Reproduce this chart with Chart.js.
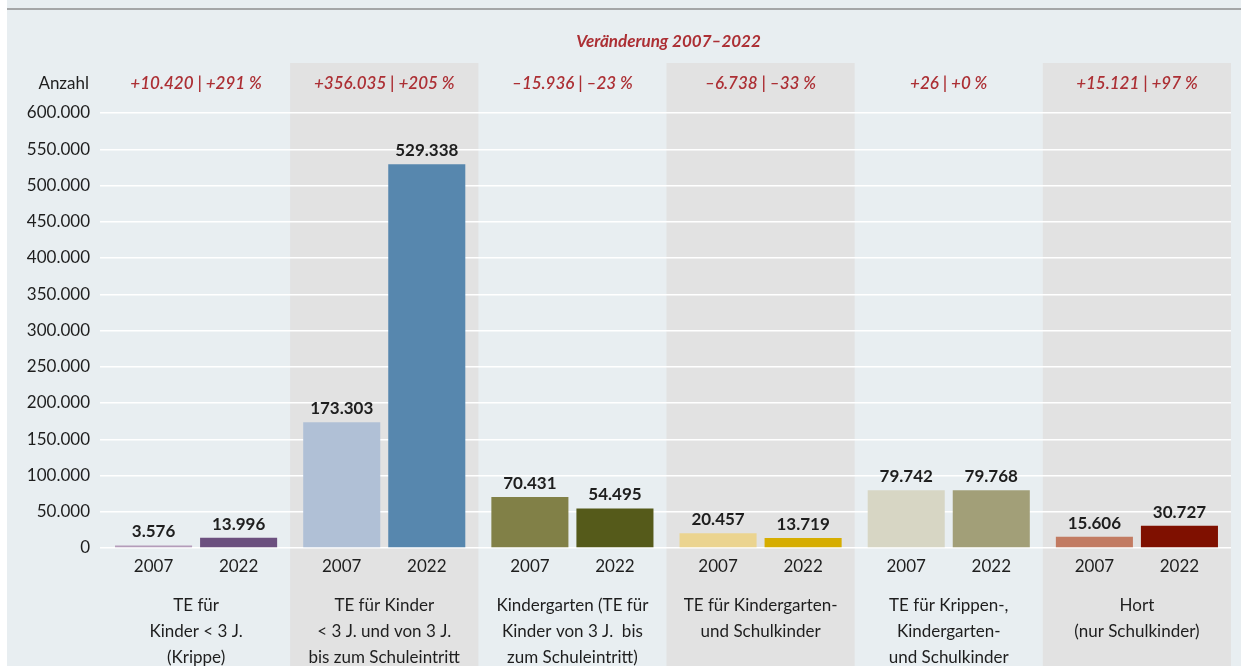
<!DOCTYPE html>
<html>
<head>
<meta charset="utf-8">
<script src="https://cdn.jsdelivr.net/npm/chart.js@4"></script>
<style>
body{margin:0;background:#fff;}
#wrap{position:absolute;left:7px;top:0;width:1234px;height:666px;background:#e8eef1;}
</style>
</head>
<body>
<div id="wrap"><canvas id="chart" width="1234" height="666"></canvas></div>
<script>
// data

const groups = [
  ["TE für", "Kinder < 3 J.", "(Krippe)"],
  ["TE für Kinder", "< 3 J. und von 3 J.", "bis zum Schuleintritt"],
  ["Kindergarten (TE für", "Kinder von 3 J.  bis", "zum Schuleintritt)"],
  ["TE für Kindergarten-", "und Schulkinder"],
  ["TE für Krippen-,", "Kindergarten-", "und Schulkinder"],
  ["Hort", "(nur Schulkinder)"]
];

const years = ["2007", "2022"];

const values2007 = [3576, 173303, 70431, 20457, 79742, 15606];
const values2022 = [13996, 529338, 54495, 13719, 79768, 30727];

const changes = [
  "+10.420 | +291 %",
  "+356.035 | +205 %",
  "\u201315.936 | \u201323 %",
  "\u20136.738 | \u201333 %",
  "+26 | +0 %",
  "+15.121 | +97 %"
];

const yTicks = [0, 600000, 50000]; // min, max, step

const colors2007 = ["#b49cba", "#b0c0d6", "#818047", "#ebd490", "#d7d6c4", "#c27b62"];
const colors2022 = ["#6c507f", "#5787ae", "#555a1a", "#d6ad00", "#a29f78", "#7f1000"];


const FONT = "Lato, 'Noto Sans', sans-serif";
const TXT = "#1e1e1e";
const RED = "#ac2f34";

function fmt(v) {
  return String(v).replace(/\B(?=(\d{3})+(?!\d))/g, ".");
}


const decor = {
  id: "decor",
  beforeDraw(chart) {
    const ctx = chart.ctx;
    const x = chart.scales.x;
    const half = (x.getPixelForValue(1) - x.getPixelForValue(0)) / 2;
    ctx.save();
    // top rule
    ctx.fillStyle = "#a4a6a7";
    ctx.fillRect(0, 8, chart.width, 2);
    // grey bands for every second group
    ctx.fillStyle = "#e2e2e2";
    for (let i = 1; i < groups.length; i += 2) {
      const cx = x.getPixelForValue(i);
      ctx.fillRect(cx - half, 63, half * 2, chart.height - 63);
    }
    ctx.restore();
  },
  afterDatasetsDraw(chart) {
    const ctx = chart.ctx;
    const x = chart.scales.x;
    const area = chart.chartArea;
    ctx.save();
    ctx.textAlign = "center";

    // values over bars and years under bars
    chart.data.datasets.forEach((ds, d) => {
      chart.getDatasetMeta(d).data.forEach((bar, i) => {
        ctx.font = "bold 17px " + FONT;
        ctx.fillStyle = TXT;
        ctx.textBaseline = "bottom";
        ctx.fillText(fmt(ds.data[i]), bar.x, bar.y - 5);
        ctx.font = "17px " + FONT;
        ctx.textBaseline = "middle";
        ctx.fillText(years[d], bar.x, area.bottom + 19);
      });
    });

    // change per group
    ctx.font = "italic 600 17px " + FONT;
    ctx.fillStyle = RED;
    ctx.textBaseline = "middle";
    changes.forEach((t, i) => {
      ctx.fillText(t, x.getPixelForValue(i), 84);
    });

    // title
    ctx.font = "italic bold 17px " + FONT;
    ctx.fillText("Veränderung 2007\u20132022", (area.left + area.right) / 2 + 2, 42);

    // axis caption
    ctx.font = "17px " + FONT;
    ctx.fillStyle = TXT;
    ctx.textAlign = "right";
    ctx.fillText("Anzahl", 82, 84);
    ctx.restore();
  }
};


new Chart(document.getElementById("chart"), {

  type: "bar",

  data: {
    labels: groups,
    datasets: [
      {
        label: years[0],
        data: values2007,
        backgroundColor: colors2007
      },
      {
        label: years[1],
        data: values2022,
        backgroundColor: colors2022
      }
    ]
  },

  options: {
    responsive: false,
    animation: false,
    categoryPercentage: 0.904,
    barPercentage: 0.906,
    layout: {
      padding: { top: 113, right: 10, left: 1, bottom: 0 }
    },
    plugins: {
      legend: { display: false },
      tooltip: { enabled: false }
    },
    scales: {
      x: {
        grid: { display: false },
        border: { display: false },
        ticks: {
          color: TXT,
          font: { family: FONT, size: 17, lineHeight: 1.55 },
          padding: 36,
          maxRotation: 0,
          autoSkip: false
        },
        afterFit(scale) {
          scale.height = 118;
        }
      },
      y: {
        min: yTicks[0],
        max: yTicks[1],
        grid: {
          color: "#ffffff",
          lineWidth: 1.5,
          drawTicks: true,
          tickLength: 2
        },
        border: { display: false },
        ticks: {
          stepSize: yTicks[2],
          color: TXT,
          padding: 10,
          font: { family: FONT, size: 17 },
          callback: (v) => fmt(v)
        },
        afterFit(scale) {
          scale.width = 94;
        }
      }
    }
  },

  plugins: [decor]

});
</script>
</body>
</html>
